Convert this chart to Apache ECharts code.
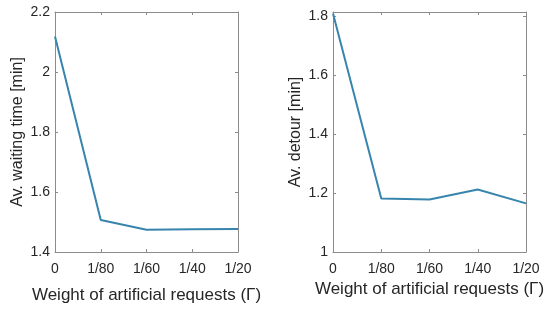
<!DOCTYPE html>
<html>
<head>
<meta charset="utf-8">
<script src="https://cdn.jsdelivr.net/npm/echarts@6/dist/echarts.min.js"></script>
<style>
  html, body { margin: 0; padding: 0; background: #fff; }
  #main { width: 548px; height: 311px; }
</style>
</head>
<body>
<div id="main"></div>
<script>
// data
var weights = ['0', '1/80', '1/60', '1/40', '1/20'];
var waitTime = [2.118, 1.507, 1.474, 1.476, 1.477];
var detour = [1.81, 1.182, 1.178, 1.212, 1.165];

var chart = echarts.init(document.getElementById('main'), null, { renderer: 'canvas' });

var font = 'Liberation Sans, Arial, Helvetica, sans-serif';
var axisCol = '#8c8c8c';
var textCol = '#262626';
var lineCol = '#3785ad';

// only label multiples of 0.2
function tickFmt(v) {
  if (Math.abs(v * 5 - Math.round(v * 5)) > 1e-6) return '';
  return String(+v.toFixed(1));
}

function xAx(gi, gap, main) {
  return {
    type: 'category',
    gridIndex: gi,
    position: main ? 'bottom' : 'top',
    data: weights,
    boundaryGap: false,
    name: main ? 'Weight of artificial requests (\u0393)' : '',
    nameLocation: 'middle',
    nameGap: gap,
    nameTextStyle: { fontFamily: font, fontSize: 17, color: textCol },
    axisLine: { show: true, lineStyle: { color: axisCol, width: 1 } },
    axisTick: { show: true, inside: true, length: 3, alignWithLabel: true, lineStyle: { color: axisCol } },
    axisLabel: { show: main, margin: 10, fontFamily: font, fontSize: 14, color: textCol },
    splitLine: { show: false }
  };
}

function yAx(gi, min, max, name, main) {
  return {
    type: 'value',
    gridIndex: gi,
    position: main ? 'left' : 'right',
    min: min,
    max: max,
    interval: 0.2,
    name: main ? name : '',
    nameLocation: 'middle',
    nameGap: 29,
    nameTextStyle: { fontFamily: font, fontSize: 16, color: textCol },
    axisLine: { show: true, lineStyle: { color: axisCol, width: 1 } },
    axisTick: { show: true, inside: true, length: 3, lineStyle: { color: axisCol } },
    axisLabel: { show: main, margin: 5, fontFamily: font, fontSize: 14, color: textCol, formatter: tickFmt },
    splitLine: { show: false }
  };
}

var option = {
  animation: false,
  backgroundColor: '#fff',
  grid: [
    { left: 55, right: 310, top: 12, bottom: 59 },
    { left: 333, right: 22, top: 12, bottom: 59 }
  ],
  xAxis: [
    xAx(0, 35, true), xAx(0, 0, false),
    xAx(1, 26, true), xAx(1, 0, false)
  ],
  yAxis: [
    yAx(0, 1.4, 2.2, 'Av. waiting time [min]', true), yAx(0, 1.4, 2.2, '', false),
    yAx(1, 1, 1.815, 'Av. detour [min]', true), yAx(1, 1, 1.815, '', false)
  ],
  series: [
    {
      type: 'line', xAxisIndex: 0, yAxisIndex: 0, data: waitTime,
      symbol: 'none', lineStyle: { color: lineCol, width: 2 }
    },
    {
      type: 'line', xAxisIndex: 2, yAxisIndex: 2, data: detour,
      symbol: 'none', lineStyle: { color: lineCol, width: 2 }
    }
  ]
};

chart.setOption(option);
</script>
</body>
</html>
